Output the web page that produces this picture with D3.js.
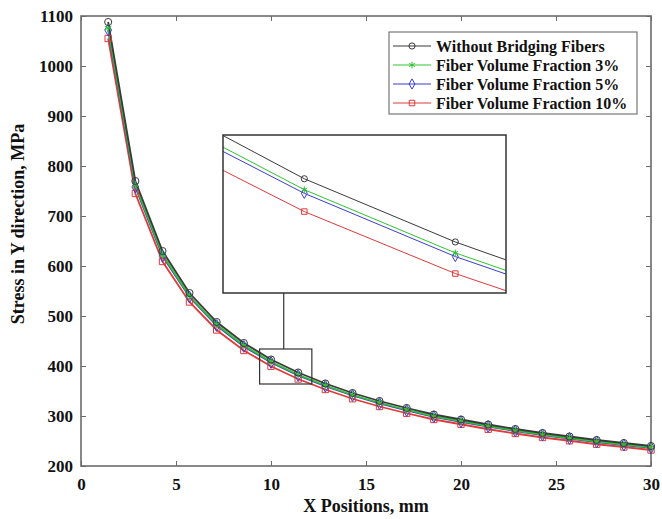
<!DOCTYPE html>
<html>
<head>
<meta charset="utf-8">
<script src="https://cdn.jsdelivr.net/npm/d3@7"></script>
<style>
  body { margin: 0; background: #fff; }
</style>
</head>
<body>
<div id="chart"></div>
<script>
// x positions (mm)
const xPositions = [1.43, 2.86, 4.29, 5.71, 7.14, 8.57, 10, 11.43, 12.86, 14.29, 15.71,
  17.14, 18.57, 20, 21.43, 22.86, 24.29, 25.71, 27.14, 28.57, 30];

const withoutFibers = [1088, 770, 630, 546, 488, 446, 413, 387, 365, 346, 330,
  316, 303, 293, 283, 274, 266, 259, 252, 246, 240];
const fraction3 = [1076, 762, 623, 540, 483, 441, 408.5, 382.5, 361, 342, 326.5,
  312.5, 299.5, 290, 280, 271, 263, 256, 249, 243, 237.5];
const fraction5 = [1072, 758, 620, 538, 481, 439, 407, 381, 359.5, 341, 325,
  311, 298.5, 288.5, 279, 270, 262, 255, 248, 242, 236.5];
const fraction10 = [1055, 745, 609, 528, 472, 431, 399.5, 374, 353, 334.5, 319,
  305.5, 293, 283.5, 273.5, 265, 257, 250.5, 243.5, 238, 232];

const seriesNames = ["Without Bridging Fibers", "Fiber Volume Fraction 3%",
  "Fiber Volume Fraction 5%", "Fiber Volume Fraction 10%"];
const xTicks = [0, 5, 10, 15, 20, 25, 30];
const yTicks = [200, 300, 400, 500, 600, 700, 800, 900, 1000, 1100];

// box marked on the main chart, and the range shown in the inset
const boxX = [9.4, 12.15];
const boxY = [364, 434];
const insetX = [9.23, 11.91];
const insetY = [366, 431];

const FONT = "'Liberation Serif', 'Times New Roman', Times, serif";

const series = [
  { name: seriesNames[0], values: withoutFibers, color: "#3a3a3a", symbol: d3.symbolCircle },
  { name: seriesNames[1], values: fraction3, color: "#2fc42f", symbol: d3.symbolAsterisk },
  { name: seriesNames[2], values: fraction5, color: "#3c3cd0", symbol: d3.symbolDiamond },
  { name: seriesNames[3], values: fraction10, color: "#e03a3a", symbol: d3.symbolSquare }
];

const W = 662, H = 519;
const margin = { top: 16, right: 11, bottom: 53, left: 81 };
const width = W - margin.left - margin.right;
const height = H - margin.top - margin.bottom;

const svg = d3.select("#chart").append("svg")
  .attr("width", W)
  .attr("height", H)
  .style("font-family", FONT);

const g = svg.append("g")
  .attr("transform", `translate(${margin.left},${margin.top})`);

const x = d3.scaleLinear().domain([0, 30]).range([0, width]);
const y = d3.scaleLinear().domain([200, 1100]).range([height, 0]);

const axisColor = "#6b6b6b";

// ticks on all four sides, pointing inward
const styleAxis = sel => {
  sel.attr("font-family", FONT);
  sel.select(".domain").remove();
  sel.selectAll(".tick line").attr("stroke", axisColor).attr("stroke-width", 1);
  sel.selectAll("text")
    .attr("fill", "#111")
    .style("font-family", FONT)
    .style("font-weight", "bold")
    .style("font-size", "17px");
};

g.append("g")
  .attr("transform", `translate(0,${height})`)
  .call(d3.axisBottom(x).tickValues(xTicks).tickSize(-5).tickPadding(12).tickFormat(d3.format("d")))
  .call(styleAxis);
g.append("g")
  .call(d3.axisTop(x).tickValues(xTicks).tickSize(-5).tickFormat(""))
  .call(styleAxis);
g.append("g")
  .call(d3.axisLeft(y).tickValues(yTicks).tickSize(-5).tickPadding(8).tickFormat(d3.format("d")))
  .call(styleAxis);
g.append("g")
  .attr("transform", `translate(${width},0)`)
  .call(d3.axisRight(y).tickValues(yTicks).tickSize(-5).tickFormat(""))
  .call(styleAxis);

g.append("rect")
  .attr("width", width)
  .attr("height", height)
  .attr("fill", "none")
  .attr("stroke", axisColor)
  .attr("stroke-width", 1.6);

function drawSeries(parent, sx, sy, lw, msize) {
  const line = d3.line().x((d, i) => sx(xPositions[i])).y(d => sy(d));
  series.slice().reverse().forEach(s => {
    parent.append("path")
      .datum(s.values)
      .attr("fill", "none")
      .attr("stroke", s.color)
      .attr("stroke-width", lw)
      .attr("d", line);
  });
  series.slice().reverse().forEach(s => {
    parent.selectAll(null)
      .data(s.values)
      .enter().append("path")
      .attr("transform", (d, i) => `translate(${sx(xPositions[i])},${sy(d)})`)
      .attr("d", d3.symbol().type(s.symbol).size(msize))
      .attr("fill", "none")
      .attr("stroke", s.color)
      .attr("stroke-width", 1);
  });
}

drawSeries(g, x, y, 1.8, 40);

// zoom box on the main chart
const bx0 = x(boxX[0]), bx1 = x(boxX[1]);
const by0 = y(boxY[1]), by1 = y(boxY[0]);
g.append("rect")
  .attr("x", bx0).attr("y", by0)
  .attr("width", bx1 - bx0).attr("height", by1 - by0)
  .attr("fill", "none")
  .attr("stroke", "#333")
  .attr("stroke-width", 1.2);

// inset
const inset = { left: 223 - margin.left, top: 135 - margin.top, width: 283, height: 158 };

g.append("line")
  .attr("x1", (bx0 + bx1) / 2 - 2).attr("x2", (bx0 + bx1) / 2 - 2)
  .attr("y1", by0).attr("y2", inset.top + inset.height)
  .attr("stroke", "#333")
  .attr("stroke-width", 1.2);

const ig = g.append("g")
  .attr("transform", `translate(${inset.left},${inset.top})`);

ig.append("rect")
  .attr("width", inset.width)
  .attr("height", inset.height)
  .attr("fill", "#fff");

svg.append("defs").append("clipPath")
  .attr("id", "inset-clip")
  .append("rect")
  .attr("width", inset.width)
  .attr("height", inset.height);

const ix = d3.scaleLinear().domain(insetX).range([0, inset.width]);
const iy = d3.scaleLinear().domain(insetY).range([inset.height, 0]);

const inner = ig.append("g").attr("clip-path", "url(#inset-clip)");
drawSeries(inner, ix, iy, 1, 30);

ig.append("rect")
  .attr("width", inset.width)
  .attr("height", inset.height)
  .attr("fill", "none")
  .attr("stroke", "#333")
  .attr("stroke-width", 1.5);

// legend
const legend = svg.append("g").attr("transform", "translate(389,32)");
legend.append("rect")
  .attr("width", 248)
  .attr("height", 82)
  .attr("fill", "#fff")
  .attr("stroke", "#777")
  .attr("stroke-width", 1.2);

series.forEach((s, i) => {
  const row = legend.append("g").attr("transform", `translate(0,${14 + i * 19})`);
  row.append("line")
    .attr("x1", 4).attr("x2", 42)
    .attr("stroke", s.color)
    .attr("stroke-width", 1.2);
  row.append("path")
    .attr("transform", "translate(23,0)")
    .attr("d", d3.symbol().type(s.symbol).size(30))
    .attr("fill", "none")
    .attr("stroke", s.color);
  row.append("text")
    .attr("x", 47)
    .attr("dy", "0.35em")
    .style("font-size", "16px")
    .style("font-weight", "bold")
    .attr("fill", "#111")
    .text(s.name);
});

// axis titles
svg.append("text")
  .attr("x", margin.left + width / 2)
  .attr("y", 512)
  .attr("text-anchor", "middle")
  .style("font-size", "18px")
  .style("font-weight", "bold")
  .attr("fill", "#111")
  .text("X Positions, mm");

svg.append("text")
  .attr("transform", "translate(24,224) rotate(-90)")
  .attr("text-anchor", "middle")
  .style("font-size", "18px")
  .style("font-weight", "bold")
  .attr("fill", "#111")
  .text("Stress in Y direction, MPa");
</script>
</body>
</html>
